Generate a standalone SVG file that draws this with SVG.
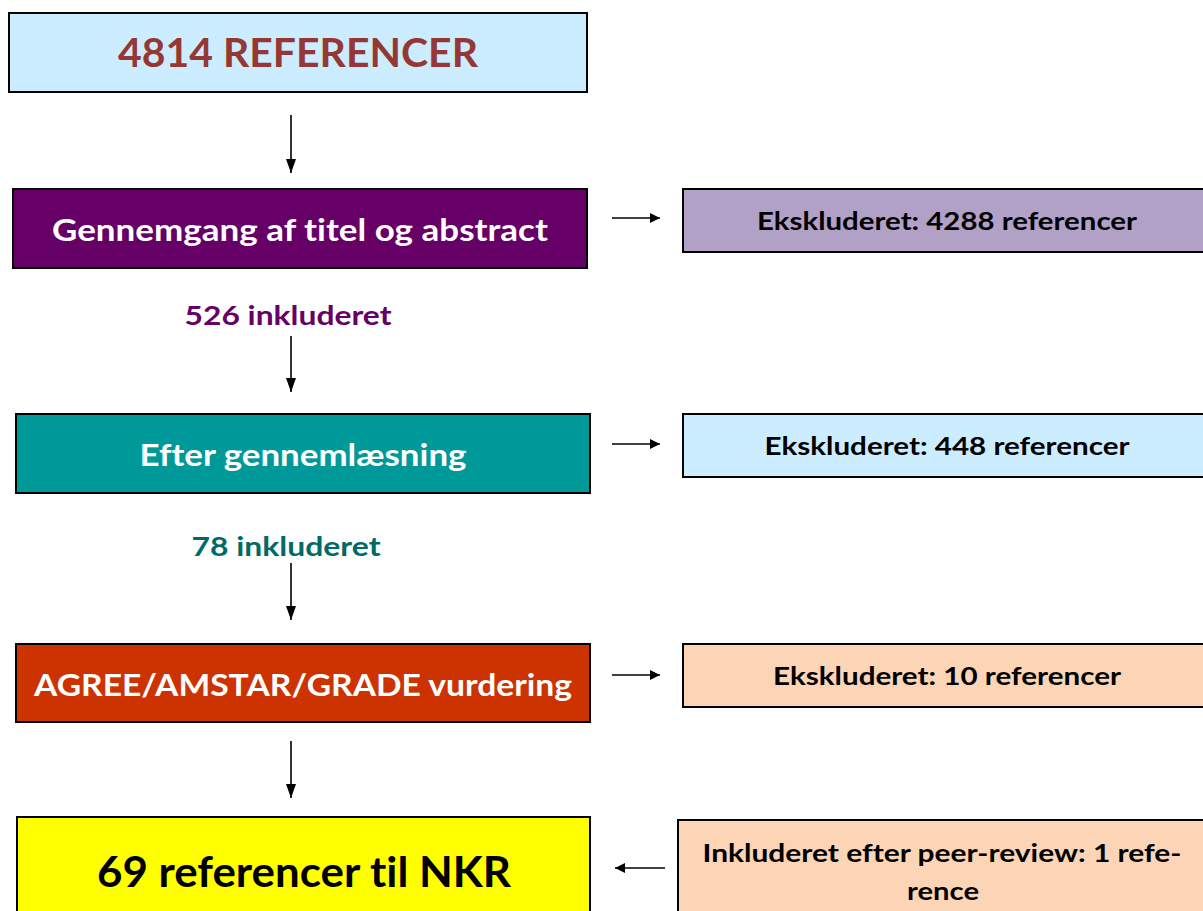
<svg xmlns="http://www.w3.org/2000/svg" width="1203" height="911" viewBox="0 0 1203 911">
<style>
.box{stroke:#000;stroke-width:2}
.t{font-family:Lato,"Open Sans","Liberation Sans",sans-serif;font-weight:bold;text-anchor:middle;font-variant-ligatures:none;font-feature-settings:"liga" 0,"dlig" 0}
.w{fill:#fff}
.k{fill:#000}
.c{stroke:#000;stroke-width:1.6;fill:none}
</style>
<defs>
<marker id="ah" viewBox="0 0 10 10" refX="10" refY="5" markerWidth="10" markerHeight="10" markerUnits="userSpaceOnUse" orient="auto">
<path d="M0,0 L10,5 L0,10 z" fill="#000"/>
</marker>
<marker id="ahv" viewBox="0 0 14 10" refX="14" refY="5" markerWidth="14" markerHeight="12" markerUnits="userSpaceOnUse" orient="auto">
<path d="M0,0 L14,5 L0,10 z" fill="#000"/>
</marker>
</defs>
<rect width="1203" height="911" fill="#fff"/>
<g id="n1"><rect class="box" x="9" y="13" width="578" height="79" fill="#CCECFF"/><text class="t" x="298" y="67" font-size="40" fill="#953735" textLength="360" lengthAdjust="spacingAndGlyphs">4814 REFERENCER</text></g>
<g id="n2"><rect class="box" x="13" y="189" width="574" height="79" fill="#660066"/><text class="t w" x="300" y="241" font-size="31" textLength="496" lengthAdjust="spacingAndGlyphs">Gennemgang af titel og abstract</text></g>
<g id="e1"><rect class="box" x="683" y="189" width="540" height="63" fill="#B2A1C7"/><text class="t k" x="947" y="230" font-size="25.5" textLength="380" lengthAdjust="spacingAndGlyphs">Ekskluderet: 4288 referencer</text></g>
<g id="l1"><text class="t" x="288" y="325" font-size="27" fill="#660066" textLength="207" lengthAdjust="spacingAndGlyphs">526 inkluderet</text></g>
<g id="n3"><rect class="box" x="16" y="414" width="574" height="79" fill="#009999"/><text class="t w" x="303" y="466" font-size="31" textLength="327" lengthAdjust="spacingAndGlyphs">Efter gennemlæsning</text></g>
<g id="e2"><rect class="box" x="683" y="414" width="540" height="63" fill="#CCECFF"/><text class="t k" x="947" y="455" font-size="25.5" textLength="365" lengthAdjust="spacingAndGlyphs">Ekskluderet: 448 referencer</text></g>
<g id="l2"><text class="t" x="286" y="556" font-size="27" fill="#006B66" textLength="189" lengthAdjust="spacingAndGlyphs">78 inkluderet</text></g>
<g id="n4"><rect class="box" x="16" y="644" width="574" height="78" fill="#CC3300"/><text class="t w" x="303" y="696" font-size="31" textLength="538" lengthAdjust="spacingAndGlyphs">AGREE/AMSTAR/GRADE vurdering</text></g>
<g id="e3"><rect class="box" x="683" y="644" width="540" height="63" fill="#FBD5B5"/><text class="t k" x="947" y="685" font-size="25.5" textLength="348" lengthAdjust="spacingAndGlyphs">Ekskluderet: 10 referencer</text></g>
<g id="n5"><rect class="box" x="17" y="817" width="573" height="120" fill="#FFFF00"/><text class="t k" x="304" y="887" font-size="42" textLength="414" lengthAdjust="spacingAndGlyphs">69 referencer til NKR</text></g>
<g id="e4"><rect class="box" x="678" y="820" width="545" height="120" fill="#FBD5B5"/><text class="t k" x="942" y="862" font-size="24.5" textLength="479" lengthAdjust="spacingAndGlyphs">Inkluderet efter peer-review: 1 refe-</text><text class="t k" x="943" y="900" font-size="24.5" textLength="72" lengthAdjust="spacingAndGlyphs">rence</text></g>
<g id="connectors">
<line class="c" x1="291" y1="115" x2="291" y2="173" marker-end="url(#ahv)"/>
<line class="c" x1="291" y1="336" x2="291" y2="392" marker-end="url(#ahv)"/>
<line class="c" x1="291" y1="563" x2="291" y2="620" marker-end="url(#ahv)"/>
<line class="c" x1="291" y1="741" x2="291" y2="798" marker-end="url(#ahv)"/>
<line class="c" x1="612" y1="218" x2="660" y2="218" marker-end="url(#ah)"/>
<line class="c" x1="612" y1="444" x2="660" y2="444" marker-end="url(#ah)"/>
<line class="c" x1="612" y1="675" x2="660" y2="675" marker-end="url(#ah)"/>
<line class="c" x1="665" y1="868" x2="615" y2="868" marker-end="url(#ah)"/>
</g>
</svg>
